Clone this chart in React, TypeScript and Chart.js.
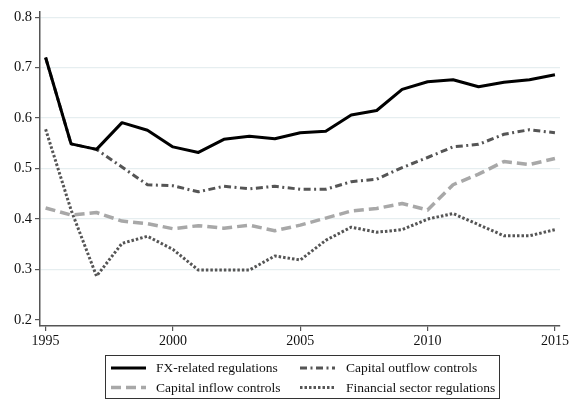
import React, { useEffect, useRef } from "react";
import { Chart, registerables } from "chart.js";

Chart.register(...registerables);

const years = [1995, 1996, 1997, 1998, 1999, 2000, 2001, 2002, 2003, 2004, 2005, 2006, 2007, 2008, 2009, 2010, 2011, 2012, 2013, 2014, 2015];

const fxRelated = [0.72, 0.549, 0.538, 0.591, 0.576, 0.543, 0.532, 0.558, 0.564, 0.559, 0.571, 0.574, 0.606, 0.615, 0.657, 0.672, 0.676, 0.662, 0.671, 0.676, 0.686];
const outflowControls = [0.72, 0.549, 0.538, 0.503, 0.468, 0.466, 0.454, 0.465, 0.46, 0.465, 0.459, 0.459, 0.474, 0.479, 0.502, 0.522, 0.543, 0.548, 0.568, 0.577, 0.571];
const inflowControls = [0.422, 0.408, 0.413, 0.396, 0.391, 0.381, 0.387, 0.382, 0.388, 0.377, 0.388, 0.402, 0.416, 0.421, 0.431, 0.418, 0.468, 0.489, 0.514, 0.508, 0.52];
const financialSector = [0.578, 0.418, 0.287, 0.352, 0.366, 0.34, 0.299, 0.299, 0.299, 0.327, 0.319, 0.358, 0.384, 0.374, 0.379, 0.4, 0.411, 0.389, 0.367, 0.367, 0.379];

const seriesNames = ["FX-related regulations", "Capital outflow controls", "Capital inflow controls", "Financial sector regulations"];
const yTicks = [0.2, 0.3, 0.4, 0.5, 0.6, 0.7, 0.8];
const xTicks = [1995, 2000, 2005, 2010, 2015];

const FONT = "'Liberation Serif', 'Times New Roman', serif";

const styles = [
  { color: "#000000", width: 3, dash: [] as number[] },
  { color: "#555555", width: 3, dash: [7, 3.5, 2, 3.5] },
  { color: "#a8a8a8", width: 3.5, dash: [10, 5] },
  { color: "#555555", width: 3, dash: [2.5, 2] },
];

const legendPlugin = {
  id: "customLegend",
  afterDraw(chart: any) {
    const ctx = chart.ctx;
    const box = { x: 105.5, y: 355.5, w: 394, h: 43 };
    ctx.save();
    ctx.strokeStyle = "#333";
    ctx.lineWidth = 1;
    ctx.strokeRect(box.x, box.y, box.w, box.h);
    const cols = [{ lx: 111, tx: 156 }, { lx: 300, tx: 346 }];
    const rows = [368, 387.5];
    ctx.font = "13.5px " + FONT;
    ctx.fillStyle = "#111";
    ctx.textBaseline = "middle";
    [0, 1, 2, 3].forEach((si, k) => {
      const c = cols[k % 2];
      const r = rows[Math.floor(k / 2)];
      const st = styles[si];
      ctx.beginPath();
      ctx.setLineDash(st.dash);
      ctx.strokeStyle = st.color;
      ctx.lineWidth = st.width;
      ctx.lineCap = "butt";
      ctx.moveTo(c.lx, r);
      ctx.lineTo(c.lx + 35, r);
      ctx.stroke();
      ctx.setLineDash([]);
      ctx.fillText(seriesNames[si], c.tx, r + 0.5);
    });
    ctx.restore();
  },
};

export default function App() {
  const ref = useRef<HTMLCanvasElement | null>(null);
  useEffect(() => {
    if (!ref.current) return;
    const allSeries = [fxRelated, outflowControls, inflowControls, financialSector];
    const chart = new Chart(ref.current, {
      type: "line",
      data: {
        datasets: allSeries.map((vals, i) => ({
          label: seriesNames[i],
          data: years.map((yr, j) => ({ x: yr, y: vals[j] })),
          borderColor: styles[i].color,
          borderWidth: styles[i].width,
          borderDash: styles[i].dash,
          borderJoinStyle: "round" as const,
          borderCapStyle: "butt" as const,
          pointRadius: 0,
          tension: 0,
          fill: false,
        })),
      },
      options: {
        animation: false,
        responsive: false,
        layout: { padding: { left: 0, right: 6, top: 7, bottom: 50 } },
        plugins: { legend: { display: false }, tooltip: { enabled: false } },
        scales: {
          x: {
            type: "linear",
            min: 1994.78,
            max: 2015.2,
            afterBuildTicks: (s: any) => {
              s.ticks = xTicks.map((v) => ({ value: v }));
            },
            afterFit: (s: any) => {
              s.height = 25;
            },
            ticks: {
              autoSkip: false,
              maxRotation: 0,
              padding: 2,
              color: "#111",
              font: { family: FONT, size: 14 },
              callback: (v: any) => String(v),
            },
            grid: { drawOnChartArea: false, tickColor: "#555", tickLength: 5, lineWidth: 1.2 },
            border: { color: "#555", width: 1.5 },
          },
          y: {
            type: "linear",
            min: 0.1883,
            max: 0.8107,
            afterBuildTicks: (s: any) => {
              s.ticks = yTicks.map((v) => ({ value: v }));
            },
            afterFit: (s: any) => {
              s.width = 40;
            },
            ticks: {
              autoSkip: false,
              padding: 3,
              color: "#111",
              font: { family: FONT, size: 14.5 },
              callback: (v: any) => Number(v).toFixed(1),
            },
            grid: {
              color: (c: any) => (c.tick && Math.abs(c.tick.value - 0.2) < 1e-6 ? "rgba(0,0,0,0)" : "#e6eef0"),
              tickColor: "#555",
              tickLength: 5,
              lineWidth: 1.2,
            },
            border: { color: "#555", width: 1.5 },
          },
        },
      },
      plugins: [legendPlugin],
    });
    return () => chart.destroy();
  }, []);
  return (
    <div style={{ position: "absolute", left: 0, top: 0, width: 571, height: 401, background: "#fff" }}>
      <canvas ref={ref} width={571} height={401} style={{ width: 571, height: 401, display: "block" }} />
    </div>
  );
}
